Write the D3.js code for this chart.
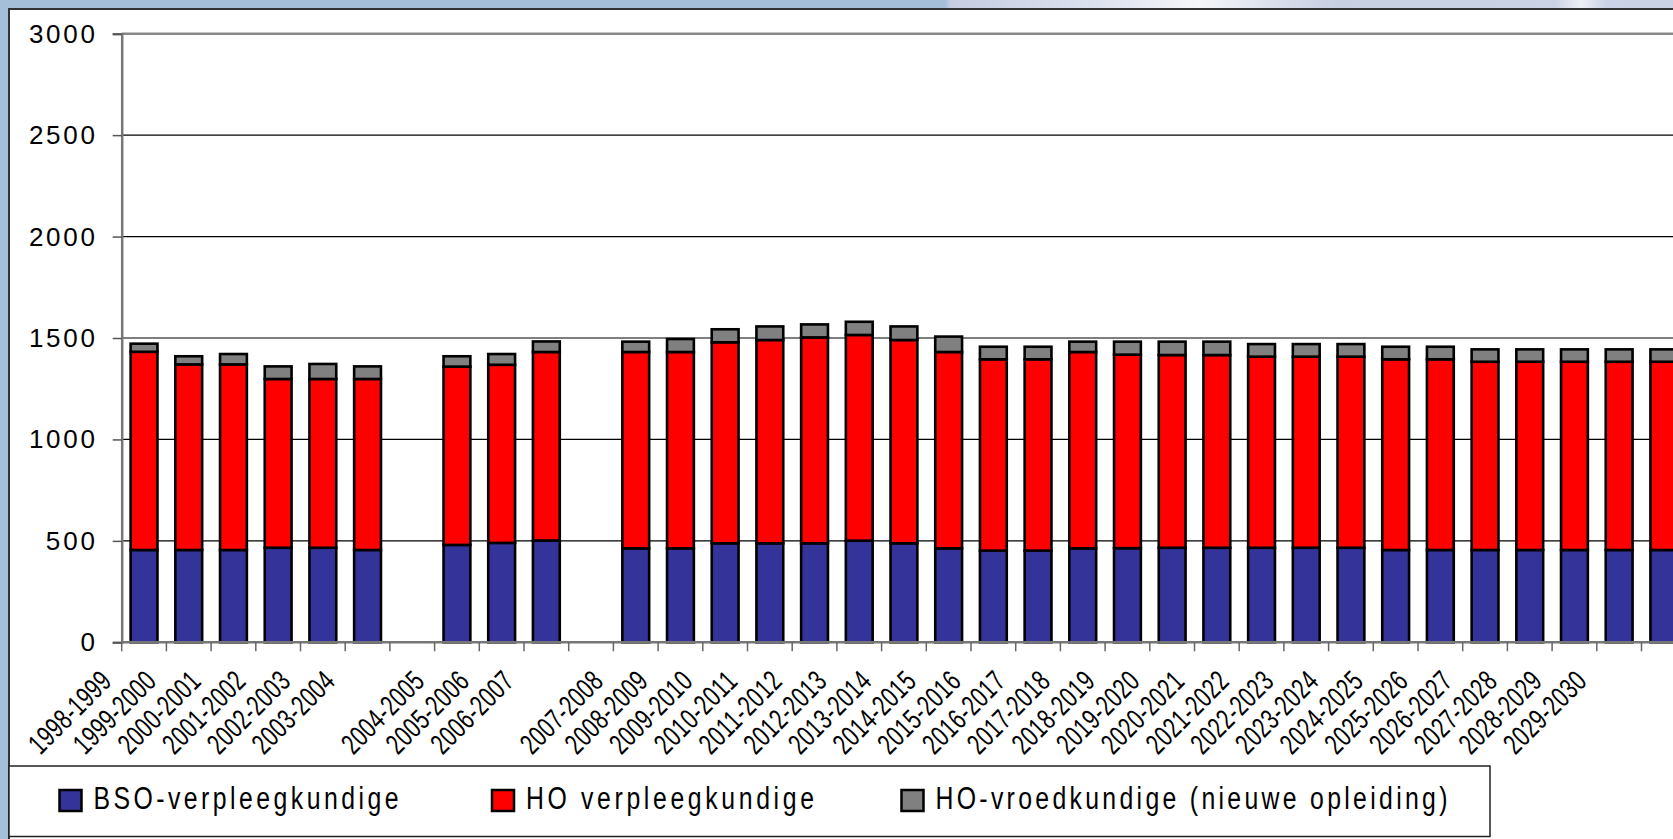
<!DOCTYPE html>
<html>
<head>
<meta charset="utf-8">
<script src="https://cdn.jsdelivr.net/npm/d3@7"></script>
<style>
  body { margin: 0; background: #ffffff; }
  svg { display: block; }
  text { font-family: "Liberation Sans", Arial, sans-serif; fill: #000; }
</style>
</head>
<body>
<svg id="chart" width="1673" height="839"></svg>
<script>
// categories (empty string = empty slot in the original sheet)
var categories = ["1998-1999", "1999-2000", "2000-2001", "2001-2002", "2002-2003", "2003-2004", "",
    "2004-2005", "2005-2006", "2006-2007", "",
    "2007-2008", "2008-2009", "2009-2010", "2010-2011", "2011-2012", "2012-2013", "2013-2014",
    "2014-2015", "2015-2016", "2016-2017", "2017-2018", "2018-2019", "2019-2020", "2020-2021",
    "2021-2022", "2022-2023", "2023-2024", "2024-2025", "2025-2026", "2026-2027", "2027-2028",
    "2028-2029", "2029-2030", ""];

// BSO-verpleegkundige
var bso = [455, 455, 455, 466, 466, 455, 0,
    480, 490, 502, 0,
    463, 463, 488, 488, 488, 501, 488,
    463, 452, 452, 463, 464, 466, 466,
    466, 466, 466, 455, 455, 455, 455,
    455, 455, 455];

// HO verpleegkundige
var hoVerpl = [977, 915, 915, 832, 832, 843, 0,
    879, 878, 929, 0,
    968, 968, 991, 1002, 1015, 1014, 1002,
    968, 943, 943, 968, 954, 950, 950,
    942, 942, 942, 940, 940, 928, 928,
    928, 928, 928];

// HO-vroedkundige (nieuwe opleiding)
var hoVroed = [40, 40, 51, 62, 74, 62, 0,
    51, 53, 52, 0,
    51, 64, 64, 67, 64, 65, 67,
    76, 62, 62, 51, 64, 66, 66,
    62, 62, 62, 62, 62, 61, 61,
    61, 61, 61];

var yTicks = [0, 500, 1000, 1500, 2000, 2500, 3000];

var seriesNames = ["BSO-verpleegkundige", "HO verpleegkundige", "HO-vroedkundige (nieuwe opleiding)"];
var seriesColors = ["#333399", "#ff0000", "#808080"];

var W = 1673, H = 839;
var svg = d3.select("#chart");

// slide background: blue band on the left and a gradient band on top
var defs = svg.append("defs");
var grad = defs.append("linearGradient").attr("id", "topband")
    .attr("x1", "0").attr("x2", "1").attr("y1", "0").attr("y2", "0");
[[0, "#a6bfd8"], [0.565, "#a6bfd8"], [0.568, "#c6cde2"], [0.66, "#dde2ef"], [0.717, "#f6f7fa"],
 [0.77, "#d6dbea"], [0.80, "#c8cfe3"], [0.93, "#cdd3e6"], [0.945, "#eef0f6"], [0.96, "#cdd3e6"], [1, "#cbd2e5"]]
    .forEach(function(s) {
        grad.append("stop").attr("offset", s[0]).attr("stop-color", s[1]);
    });

svg.append("rect").attr("width", W).attr("height", H).attr("fill", "#a6bfd8");
svg.append("rect").attr("width", W).attr("height", 9).attr("fill", "url(#topband)");
svg.append("rect").attr("x", 9).attr("y", 9).attr("width", W - 9).attr("height", H - 9).attr("fill", "#ffffff");
svg.append("line").attr("x1", 8).attr("x2", W).attr("y1", 9).attr("y2", 9)
    .attr("stroke", "#333").attr("stroke-width", 2);
svg.append("line").attr("x1", 9).attr("x2", 9).attr("y1", 8).attr("y2", H)
    .attr("stroke", "#333").attr("stroke-width", 2);

// scales
var plotLeft = 121.7, step = 44.7;
var x = d3.scaleBand()
    .domain(d3.range(categories.length))
    .range([plotLeft, plotLeft + step * categories.length])
    .paddingInner(0.4)
    .paddingOuter(0.2);

var y = d3.scaleLinear().domain([0, 3000]).range([642.3, 33.7]);

// gridlines
svg.append("g").selectAll("line")
    .data(yTicks.filter(function(d) { return d > 0; }))
    .join("line")
    .attr("x1", plotLeft).attr("x2", W)
    .attr("y1", function(d) { return y(d); })
    .attr("y2", function(d) { return y(d); })
    .attr("stroke", function(d) { return d == 3000 ? "#888" : "#000"; })
    .attr("stroke-width", function(d) { return d == 3000 ? 2.5 : 1.2; });

// stacked bars
var rows = categories.map(function(c, i) {
    return { i: i, bso: bso[i], hoVerpl: hoVerpl[i], hoVroed: hoVroed[i] };
});
var stack = d3.stack().keys(["bso", "hoVerpl", "hoVroed"]);
var layers = stack(rows);

svg.append("g").selectAll("g")
    .data(layers)
    .join("g")
    .attr("fill", function(d, k) { return seriesColors[k]; })
    .selectAll("rect")
    .data(function(d) { return d.filter(function(s) { return s[1] - s[0] > 0; }); })
    .join("rect")
    .attr("x", function(d) { return x(d.data.i); })
    .attr("width", x.bandwidth())
    .attr("y", function(d) { return y(d[1]); })
    .attr("height", function(d) { return y(d[0]) - y(d[1]); })
    .attr("stroke", "#000")
    .attr("stroke-width", 2.6);

// y axis
var yAxis = svg.append("g")
    .attr("transform", "translate(" + plotLeft + ",0)")
    .call(d3.axisLeft(y).tickValues(yTicks).tickSize(9).tickPadding(0).tickFormat(""));
yAxis.select(".domain").attr("stroke", "#777").attr("stroke-width", 2.5);
yAxis.selectAll(".tick line").attr("stroke", "#555").attr("stroke-width", 1.5);

svg.append("g").selectAll("text")
    .data(yTicks)
    .join("text")
    .attr("x", 95)
    .attr("y", function(d) { return y(d) + 9; })
    .attr("text-anchor", "end")
    .attr("font-size", 26)
    .attr("textLength", function(d) { return String(d).length * 16.9 - 1.5; })
    .attr("lengthAdjust", "spacing")
    .text(function(d) { return d; });

// x axis line and category boundary ticks
var x0 = y(0);
svg.append("line").attr("x1", plotLeft).attr("x2", W).attr("y1", x0).attr("y2", x0)
    .attr("stroke", "#777").attr("stroke-width", 2.5);
svg.append("g").selectAll("line")
    .data(d3.range(categories.length + 1))
    .join("line")
    .attr("x1", function(d) { return x.range()[0] + d * x.step(); })
    .attr("x2", function(d) { return x.range()[0] + d * x.step(); })
    .attr("y1", x0).attr("y2", x0 + 9)
    .attr("stroke", "#666").attr("stroke-width", 1.5);

// rotated category labels (narrow, letter-spaced look of the original)
svg.append("g").selectAll("text")
    .data(categories.map(function(c, i) { return { c: c, i: i }; }).filter(function(d) { return d.c != ""; }))
    .join("text")
    .attr("transform", function(d) {
        return "translate(" + (x(d.i) + x.bandwidth() / 2 - 31) + ",683) rotate(-45) scale(0.72,1)";
    })
    .attr("text-anchor", "end")
    .attr("font-size", 29)
    .attr("textLength", 143)
    .attr("lengthAdjust", "spacing")
    .text(function(d) { return d.c; });

// legend
svg.append("rect").attr("x", 9).attr("y", 766).attr("width", 1481).attr("height", 70.5)
    .attr("fill", "#fff").attr("stroke", "#222").attr("stroke-width", 1.5);

var legendX = [59.5, 492, 901.5];
var legendTextW = [305, 288, 512];
var leg = svg.append("g").selectAll("g")
    .data(seriesNames)
    .join("g")
    .attr("transform", function(d, k) { return "translate(" + legendX[k] + ",790)"; });
leg.append("rect")
    .attr("width", 22).attr("height", 21)
    .attr("fill", function(d, k) { return seriesColors[k]; })
    .attr("stroke", "#000").attr("stroke-width", 2.5);
leg.append("text")
    .attr("transform", "translate(34,18.5) scale(0.8,1)")
    .attr("font-size", 31)
    .attr("textLength", function(d, k) { return legendTextW[k] / 0.8; })
    .attr("lengthAdjust", "spacing")
    .text(function(d) { return d; });
</script>
</body>
</html>
